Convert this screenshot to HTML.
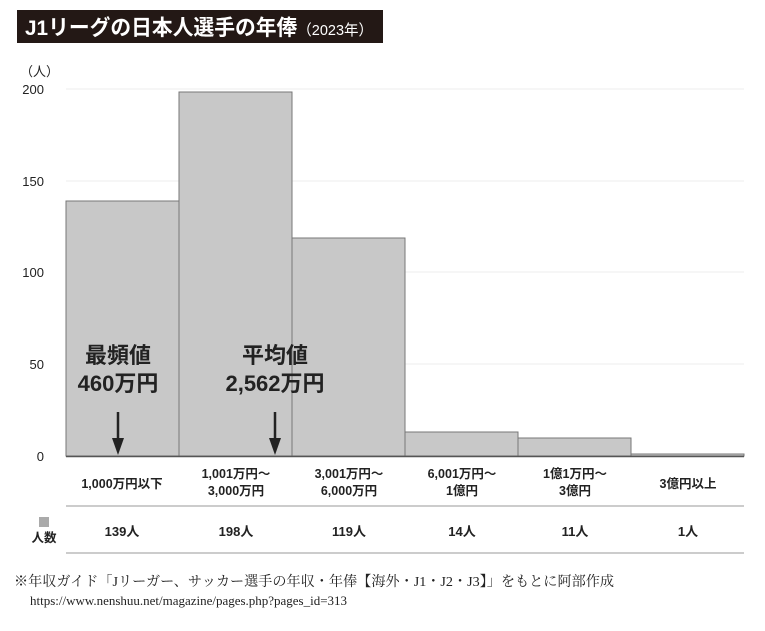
<!DOCTYPE html>
<html><head><meta charset="utf-8"><style>
body{margin:0;background:#fff;width:765px;height:626px;overflow:hidden;font-family:"Liberation Sans","Noto Sans CJK JP",sans-serif;}
</style></head><body>
<svg width="765" height="626" xmlns="http://www.w3.org/2000/svg" font-family="Liberation Sans, Noto Sans CJK JP, sans-serif">
<rect x="17" y="10" width="366" height="33" fill="#231815"/>
<text x="25" y="35" fill="#fff" font-size="21.5" font-weight="bold" textLength="348" lengthAdjust="spacingAndGlyphs">J1リーグの日本人選手の年俸<tspan font-size="15" font-weight="normal">（2023年）</tspan></text>
<text x="20" y="76" font-size="13" fill="#222">（人）</text>
<g font-size="13" fill="#222" text-anchor="end">
<text x="44" y="94">200</text><text x="44" y="186">150</text><text x="44" y="277">100</text><text x="44" y="369">50</text><text x="44" y="461">0</text></g>
<g stroke="#eee" stroke-width="1">
<line x1="66" y1="89" x2="744" y2="89"/><line x1="66" y1="181" x2="744" y2="181"/><line x1="66" y1="272" x2="744" y2="272"/><line x1="66" y1="364" x2="744" y2="364"/></g>
<g fill="#c8c8c8" stroke="#777" stroke-width="1">
<rect x="66" y="201" width="113" height="255"/>
<rect x="179" y="92" width="113" height="364"/>
<rect x="292" y="238" width="113" height="218"/>
<rect x="405" y="432" width="113" height="24"/>
<rect x="518" y="438" width="113" height="18"/>
<rect x="631" y="454" width="113" height="2"/>
</g>
<line x1="66" y1="456.5" x2="744" y2="456.5" stroke="#555" stroke-width="1.5"/>
<g font-size="22" font-weight="bold" fill="#222" text-anchor="middle">
<text x="118" y="363">最頻値</text><text x="118" y="391">460万円</text>
<text x="275" y="363">平均値</text><text x="275" y="391">2,562万円</text></g>
<g stroke="#222" stroke-width="2.5"><line x1="118" y1="412" x2="118" y2="440"/><line x1="275" y1="412" x2="275" y2="440"/></g>
<polygon points="112,438 124,438 118,455" fill="#222"/><polygon points="269,438 281,438 275,455" fill="#222"/>
<g font-size="12.5" fill="#222" text-anchor="middle" font-weight="bold">
<text x="122" y="488">1,000万円以下</text>
<text x="236" y="478">1,001万円～</text><text x="236" y="495">3,000万円</text>
<text x="349" y="478">3,001万円～</text><text x="349" y="495">6,000万円</text>
<text x="462" y="478">6,001万円～</text><text x="462" y="495">1億円</text>
<text x="575" y="478">1億1万円～</text><text x="575" y="495">3億円</text>
<text x="688" y="488">3億円以上</text>
<g font-size="13"><text x="122" y="536">139人</text><text x="236" y="536">198人</text><text x="349" y="536">119人</text><text x="462" y="536">14人</text><text x="575" y="536">11人</text><text x="688" y="536">1人</text></g>
<text x="44" y="542">人数</text></g>
<rect x="39" y="517" width="10" height="10" fill="#aaa"/>
<g stroke="#999" stroke-width="1"><line x1="66" y1="506" x2="744" y2="506"/><line x1="66" y1="553" x2="744" y2="553"/></g>
<text x="14" y="586" font-size="14" fill="#222" font-family="Liberation Serif, Noto Serif CJK SC, serif" textLength="600" lengthAdjust="spacingAndGlyphs">※年収ガイド「Jリーガー、サッカー選手の年収・年俸【海外・J1・J2・J3】」をもとに阿部作成</text>
<text x="30" y="605" font-size="12.5" fill="#222" font-family="Liberation Serif, serif" textLength="317" lengthAdjust="spacingAndGlyphs">https://www.nenshuu.net/magazine/pages.php?pages_id=313</text>
</svg>
</body></html>
